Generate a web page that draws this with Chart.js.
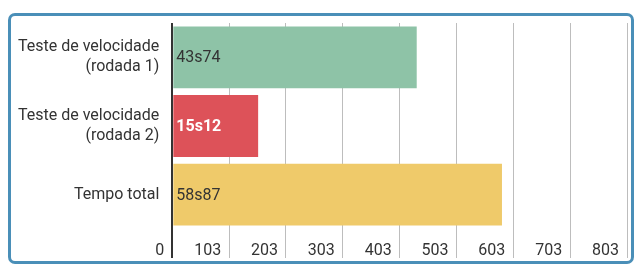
<!DOCTYPE html>
<html>
<head>
<meta charset="utf-8">
<script src="https://cdn.jsdelivr.net/npm/chart.js@4/dist/chart.umd.min.js"></script>
<style>
  html, body { margin: 0; padding: 0; background: #fff; }
  #wrap { position: relative; width: 638px; height: 273px; }
  #frame {
    position: absolute; left: 8px; top: 13px; width: 620px; height: 245px;
    border: 3px solid #4a8fb8; border-radius: 7px; pointer-events: none;
  }
  canvas { position: absolute; left: 0; top: 0; }
</style>
</head>
<body>
<div id="wrap">
  <canvas id="chart" width="638" height="273"></canvas>
  <div id="frame"></div>
</div>
<script>
// categories and values (bar lengths)
const categories = [
    ['Teste de velocidade', '(rodada 1)'],
    ['Teste de velocidade', '(rodada 2)'],
    'Tempo total'
];
const values = [430, 151, 580];
const valueLabels = ['43s74', '15s12', '58s87'];
const barColors = ['#8ec3a7', '#dd5259', '#efca6a'];
const labelColors = ['#333333', '#ffffff', '#333333'];
const labelWeights = ['normal', 'bold', 'normal'];
const tickLabels = ['0', '103', '203', '303', '403', '503', '603', '703', '803'];

const FONT = 'Roboto, "Noto Sans", sans-serif';

// draws the time text at the start of each bar
const barText = {
    id: 'barText',
    afterDatasetsDraw(chart) {
        const ctx = chart.ctx;
        const meta = chart.getDatasetMeta(0);
        ctx.save();
        ctx.textBaseline = 'middle';
        ctx.textAlign = 'left';
        meta.data.forEach((bar, i) => {
            ctx.font = labelWeights[i] + ' 16px ' + FONT;
            ctx.fillStyle = labelColors[i];
            ctx.fillText(valueLabels[i], bar.base + 3, bar.y + 1);
        });
        ctx.restore();
    }
};

new Chart(document.getElementById('chart'), {
    type: 'bar',
    data: {
        labels: categories,
        datasets: [{
            data: values,
            backgroundColor: barColors,
            borderWidth: 0,
            barPercentage: 0.9,
            categoryPercentage: 1
        }]
    },
    options: {
        indexAxis: 'y',
        responsive: false,
        animation: false,
        layout: { padding: { left: 5, right: 11, top: 18, bottom: 4 } },
        plugins: { legend: { display: false }, tooltip: { enabled: false } },
        scales: {
            x: {
                min: 0,
                max: 800,
                border: { display: false },
                grid: {
                    color: c => c.tick && c.tick.value === 0 ? '#333333' : '#bdbdbd',
                    lineWidth: c => c.tick && c.tick.value === 0 ? 2 : 1,
                    tickLength: 29
                },
                ticks: {
                    stepSize: 100,
                    align: 'end',
                    labelOffset: -8,
                    padding: -17,
                    color: '#333333',
                    font: { family: FONT, size: 16 },
                    callback: (v, i) => tickLabels[i]
                },
                // keep the label strip inside the scale box so it isn't clipped
                afterFit: s => { s.height = 40; }
            },
            y: {
                border: { display: false },
                grid: { display: false, drawTicks: false },
                ticks: {
                    padding: 13,
                    color: '#333333',
                    font: { family: FONT, size: 16, lineHeight: 1.25 }
                }
            }
        }
    },
    plugins: [barText]
});
</script>
</body>
</html>
